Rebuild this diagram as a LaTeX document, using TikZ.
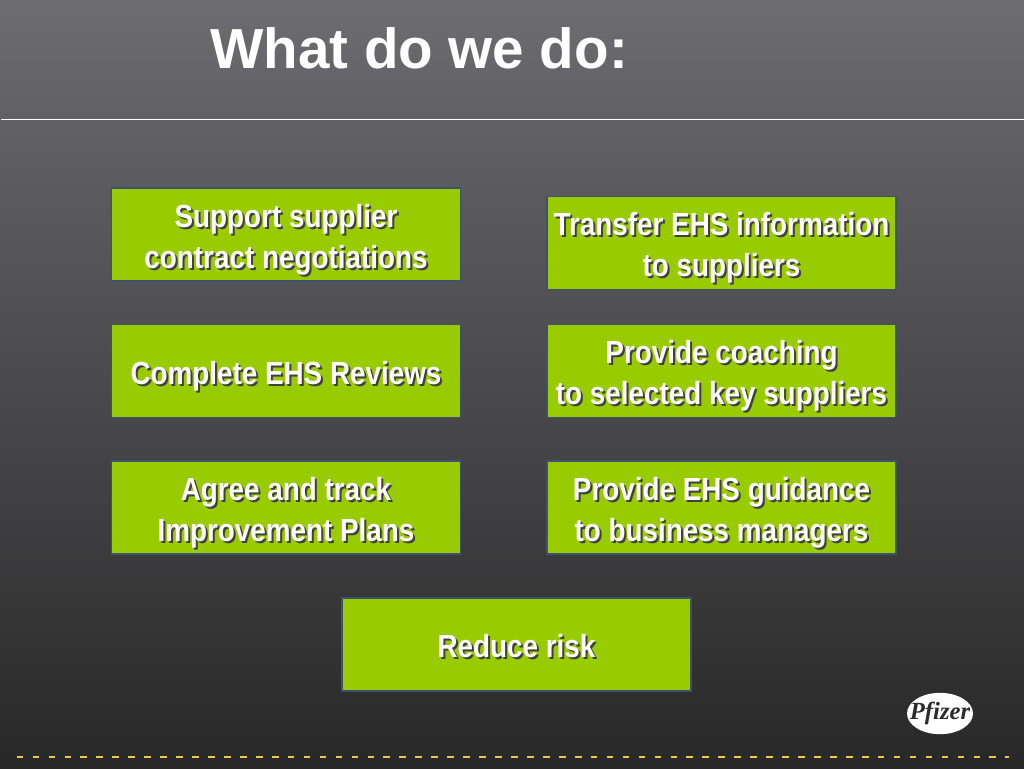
\documentclass[tikz,border=0pt]{standalone}
\usepackage{fontspec}
\usepackage{graphicx}
\setmainfont{Liberation Sans}
\newfontfamily\logofont{Liberation Serif}
\usetikzlibrary{shapes.geometric}
\definecolor{boxgreen}{HTML}{99CC00}
\definecolor{boxedge}{HTML}{3F5173}
\definecolor{dashyellow}{HTML}{EBCB4A}
\definecolor{logodark}{HTML}{2B2B2B}
\definecolor{bgtop}{HTML}{6C6C71}
\definecolor{bgbottom}{HTML}{282828}
\newcommand{\shtext}[2][4.5pt]{\raisebox{-#1}[\height][\depth]{\makebox[0pt][l]{\hspace{1.5pt}\raisebox{-1.5pt}{\color{black!75}\scalebox{.87}[1]{#2}}}\scalebox{.87}[1]{#2}}}
\tikzset{
  taskbox/.style={draw=boxedge,line width=.8pt,fill=boxgreen,text=white,minimum width=261.75pt,minimum height=69.75pt,
    align=center,inner sep=0pt,font=\fontsize{24}{30.75}\selectfont\bfseries},
  titletext/.style={text=white,inner sep=0pt,font=\fontsize{42.4}{50}\selectfont\bfseries},
  logobadge/.style={ellipse,fill=white,text=logodark,minimum width=49.5pt,minimum height=31pt,inner sep=0pt,
    font=\logofont\fontsize{18.5}{18.5}\selectfont\bfseries\itshape}
}
\begin{document}
\begin{tikzpicture}[x=.75pt,y=-.75pt]
  % background and header
  \path[use as bounding box,top color=bgtop,bottom color=bgbottom] (0,0) rectangle (1024,768);
  \coordinate (ruleL) at (1,119.5);
  \coordinate (ruleR) at (1024,119.5);
  \draw[white,line width=.8pt] (ruleL) -- (ruleR);
  \node[titletext] (title) at (419,48) {What do we do:};
  % boxes
  \node[taskbox] (support) at (286,234.5) {\shtext{Support supplier}\\\shtext{contract negotiations}};
  \node[taskbox] (transfer) at (721.5,243) {\shtext{Transfer EHS information}\\\shtext{to suppliers}};
  \node[taskbox] (reviews) at (286,371) {\shtext{Complete EHS Reviews}};
  \node[taskbox] (coaching) at (721.5,371) {\shtext{Provide coaching}\\\shtext{to selected key suppliers}};
  \node[taskbox] (plans) at (286,507.5) {\shtext{Agree and track}\\\shtext{Improvement Plans}};
  \node[taskbox] (guidance) at (721.5,507.5) {\shtext{Provide EHS guidance}\\\shtext{to business managers}};
  \node[taskbox] (risk) at (516.5,644.5) {\shtext[2pt]{Reduce risk}};
  % footer
  \node[logobadge] (logo) at (940,713.5) {\makebox[0pt]{Pfizer}};
  \coordinate (dashL) at (16.7,757);
  \coordinate (dashR) at (1009,757);
  \draw[dashyellow,line width=1.2pt,dash pattern=on 5pt off 6.96pt] (dashL) -- (dashR);
\end{tikzpicture}
\end{document}
